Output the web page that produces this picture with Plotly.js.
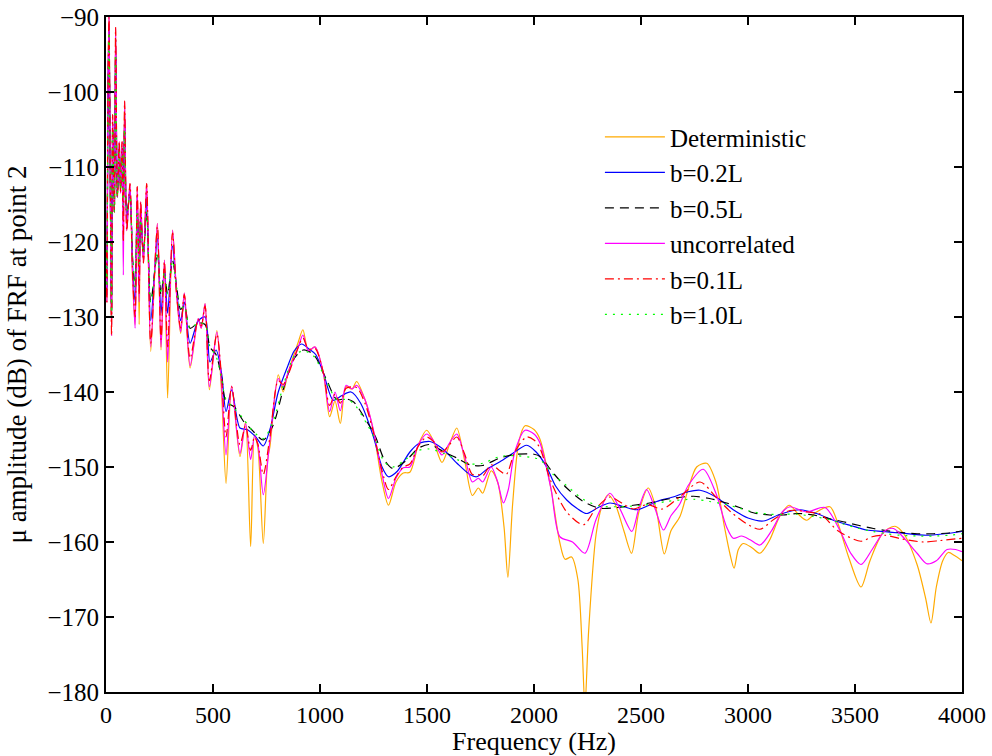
<!DOCTYPE html>
<html><head><meta charset="utf-8">
<script src="https://cdn.plot.ly/plotly-3.0.1.min.js"></script>
<style>html,body{margin:0;padding:0;background:#fff}#chart{width:992px;height:756px}</style>
</head><body><div id="chart"></div>
<script>
// Deterministic
const detF=[0,4,9,14,20,26,31,39,45,53,62,68,75,81,87,97,112,124,136,146,155,162,175,190,209,240,257,273,288,311,330,349,366,393,431,445,463,483,518,540,561,587,626,652,676,694,710,735,755,766,805,828,850,899,920,946,977,1016,1045,1070,1095,1122,1150,1171,1210,1249,1290,1320,1355,1389,1420,1460,1498,1530,1570,1605,1639,1675,1712,1740,1760,1800,1830,1860,1878,1900,1930,1958,2000,2028,2080,2120,2145,2176,2205,2225,2238,2255,2290,2320,2347,2380,2420,2456,2490,2534,2570,2609,2640,2682,2720,2760,2807,2850,2890,2915,2935,2955,2978,3020,3056,3100,3150,3193,3235,3274,3320,3383,3420,3470,3528,3570,3630,3687,3730,3790,3830,3855,3880,3910,3936,3965,4000];
const detY=[-121,-128,-100,-90,-112,-132.5,-103,-116,-91.4,-114,-106.6,-113.5,-106.6,-117,-101.2,-118.5,-112.2,-125,-131,-112.6,-131,-114.6,-122.8,-112.2,-134.6,-117.5,-134.4,-122.4,-140.8,-118.4,-127,-132.2,-126.8,-136.8,-130.2,-131.5,-128.2,-139.7,-131.8,-140,-152.2,-139.2,-148.6,-144,-160.6,-145.7,-147.5,-160.2,-149,-147.3,-137.7,-140,-137.5,-133.3,-131.7,-134.5,-134,-137.5,-143.3,-141.2,-144.2,-139.3,-139.6,-138.6,-141,-145.1,-152,-155.1,-152,-150.8,-150.7,-147,-145.1,-146.5,-149.4,-147,-144.8,-149,-153.8,-152.8,-153.5,-150.5,-152,-158,-164.7,-155,-146.5,-144.5,-145,-146.3,-153,-160,-162.3,-162,-165,-174,-182,-172,-159,-155,-153.7,-155,-158.5,-161.5,-156,-152.8,-155.5,-161.6,-158.5,-156.6,-153,-150,-149.5,-152,-158,-161.5,-163.5,-161,-160.2,-160.8,-161.5,-159.8,-156.5,-155.1,-156.3,-157.1,-156,-155.3,-157.5,-162,-166,-162.5,-158.8,-157.9,-159,-163,-167.5,-170.8,-166,-162.5,-161.4,-161.8,-162.5];

// b=0.2L
const b02F=[0,4,9,14,20,26,31,39,45,53,62,68,75,81,87,97,112,124,136,146,155,162,175,190,209,240,257,273,288,311,330,349,366,393,431,463,486,514,540,561,587,626,660,700,735,766,805,850,880,914,950,980,1016,1062,1100,1145,1190,1250,1290,1320,1360,1420,1460,1514,1570,1640,1700,1732,1780,1841,1900,1966,2010,2059,2100,2153,2200,2246,2300,2355,2420,2480,2530,2573,2650,2720,2776,2850,2931,3000,3072,3150,3243,3320,3399,3480,3554,3630,3710,3835,3920,4000];
const b02Y=[-121,-127,-101,-91,-112,-131,-104,-116,-93,-114,-107,-113,-107.5,-116,-103,-117,-113,-123,-128,-114,-125,-116,-122,-114,-130.5,-119.5,-129.5,-123.5,-129.5,-120.5,-126.5,-130.5,-128,-133.5,-130.5,-130,-136,-134.4,-137.5,-142.6,-139.7,-144.8,-145,-146,-147.2,-145,-140,-136.5,-134.5,-133.6,-134.3,-135,-137.5,-141.1,-140.5,-140,-141.5,-146,-150,-151.3,-150.6,-148,-146.9,-146.6,-147.5,-149.5,-151,-151.3,-150.3,-149.3,-148.2,-147.1,-148,-150,-152.5,-154.4,-155.5,-156.2,-155.4,-154.8,-155.3,-155.7,-155.2,-154.6,-154,-153.3,-153.1,-154,-155.7,-156.8,-157.2,-156.3,-155.7,-156.2,-157.1,-157.8,-158.4,-158.6,-158.8,-159.1,-158.9,-158.6];

// b=0.5L
const b05F=[0,4,9,14,20,26,31,39,45,53,62,68,75,81,87,97,112,124,136,146,155,162,175,190,209,240,257,273,288,311,330,349,366,393,431,463,486,514,540,561,600,640,680,735,780,830,880,922,970,1031,1078,1120,1156,1220,1260,1300,1340,1400,1460,1510,1580,1640,1700,1760,1841,1919,2000,2028,2090,2153,2230,2308,2390,2464,2540,2620,2745,2820,2900,2960,3025,3100,3165,3230,3305,3380,3445,3520,3586,3650,3710,3790,3866,3940,4000];
const b05Y=[-121,-126,-102,-92,-112,-130,-105,-116,-95,-114,-108,-113,-108.5,-115,-105,-116,-114,-122,-126,-116,-123,-117,-121.5,-116,-128,-121.5,-127,-124,-127,-122.5,-126,-129,-128.5,-131.5,-130.8,-131,-134,-135,-138,-141.3,-142,-143.8,-145,-146.4,-144.5,-139.5,-135.5,-134.4,-135,-138.4,-141,-140.9,-141.3,-144,-146,-149,-150.2,-149.2,-147.5,-147,-148,-148.8,-149.7,-149.8,-148.8,-148.3,-148.3,-148.6,-150.8,-152.8,-154.6,-155.5,-155.4,-155.1,-154.8,-154.3,-153.9,-154.2,-154.8,-155.4,-156.1,-156.4,-156.4,-156.2,-156.4,-156.9,-157.3,-157.8,-158.2,-158.5,-158.7,-158.9,-158.9,-158.8,-158.5];

// uncorrelated
const uncF=[0,4,9,14,20,26,31,39,45,53,62,68,75,81,87,97,112,124,136,146,155,162,175,190,209,240,257,273,288,311,330,349,366,393,431,445,463,483,518,540,561,587,626,652,676,694,710,735,766,805,828,850,899,920,946,977,1016,1045,1070,1095,1122,1150,1171,1210,1249,1290,1320,1355,1389,1420,1460,1498,1530,1570,1605,1639,1675,1712,1740,1760,1800,1830,1857,1880,1910,1958,2000,2028,2080,2121,2180,2238,2290,2355,2400,2457,2490,2526,2565,2605,2640,2680,2720,2791,2850,2900,2931,2970,3010,3056,3110,3160,3196,3274,3360,3430,3480,3528,3580,3640,3680,3730,3790,3835,3880,3930,3970,4000];
const uncY=[-121,-128,-100,-90,-112,-132.5,-103,-116,-91.4,-114,-106.6,-113.5,-106.6,-124.4,-101.2,-118.5,-112.2,-124,-131.5,-112.6,-128,-114.6,-122.8,-112.2,-134,-117.5,-134,-122.4,-136,-118.4,-127,-132,-126.8,-136.5,-130.2,-131.5,-128.2,-139.3,-132,-139,-148.4,-139.2,-148.2,-144.2,-149,-145.9,-147,-153.7,-146.5,-138.2,-139.3,-137.5,-134,-132.4,-134.5,-134,-137.5,-142.6,-140,-142.5,-139.1,-139.6,-139.1,-141,-145,-151,-154.2,-151.5,-150.1,-150,-147,-145.6,-146.5,-148.4,-146.8,-145.6,-148.5,-152,-151.5,-152,-150,-152,-154.8,-153,-148,-145.1,-145.6,-146.8,-153,-159.3,-160,-161.5,-157,-153.5,-155.5,-158.6,-155.5,-153,-155.5,-158.4,-156.5,-155,-152.5,-150.3,-153.5,-158,-159.5,-159.2,-159.7,-160.4,-158.5,-156,-155.3,-156,-155.4,-158.5,-161.5,-163,-161,-158.5,-158.2,-159.5,-161.5,-162.9,-162.5,-161,-161,-161.3];

// b=0.1L
const b01F=[0,4,9,14,20,26,31,39,45,53,62,68,75,81,87,97,112,124,136,146,155,162,175,190,209,240,257,273,288,311,330,349,366,393,431,445,463,483,518,540,561,587,626,652,676,694,710,735,766,805,828,850,899,920,946,977,1016,1045,1070,1095,1122,1171,1210,1249,1290,1320,1355,1389,1420,1460,1498,1530,1570,1605,1639,1675,1712,1740,1760,1800,1840,1870,1910,1965,2000,2028,2080,2153,2231,2290,2355,2410,2464,2530,2600,2680,2776,2850,2920,2990,3056,3120,3196,3280,3340,3420,3528,3580,3640,3720,3820,3900,4000];
const b01Y=[-121,-128,-100,-90,-112,-132.5,-103,-116,-91.4,-114,-106.6,-113.5,-106.6,-120,-101.2,-118.5,-112.2,-124,-130,-112.6,-127,-114.6,-122.8,-112.2,-133.5,-118,-133,-122.6,-134,-118.8,-127,-131.5,-127,-135.5,-130.3,-131.2,-128.5,-138.5,-132.3,-138,-146,-139.3,-147,-144.5,-147.8,-146,-147,-151,-146,-138.5,-139,-137.8,-134,-132.8,-134.3,-134.2,-137.5,-141.8,-140.3,-141.5,-139.5,-139.4,-141.5,-145.3,-150.5,-153,-151.3,-150,-149.6,-147.2,-146,-146.6,-148,-147,-146,-148.2,-151,-151,-151.2,-149.7,-150.5,-151,-148,-146,-146.4,-147.5,-152,-156,-157.7,-155.5,-154,-154.8,-155.6,-155,-155.6,-154,-152,-154,-156,-157.5,-158.3,-157,-155.8,-156,-156.3,-158.5,-159.9,-159.3,-159.1,-159.6,-160,-159.8,-159.5];

// b=1.0L
const b10F=[0,4,9,14,20,26,31,39,45,53,62,68,75,81,87,97,112,124,136,146,155,162,175,190,209,240,257,273,288,311,330,349,366,393,431,463,486,514,540,561,600,640,680,735,780,830,880,922,970,1031,1078,1120,1156,1220,1260,1300,1340,1400,1460,1510,1580,1640,1700,1760,1841,1919,2000,2028,2090,2153,2230,2308,2390,2464,2540,2620,2745,2820,2900,2960,3025,3100,3165,3230,3305,3380,3445,3520,3586,3650,3710,3790,3866,3940,4000];
const b10Y=[-121,-126,-102,-92,-112,-130,-105,-116,-95,-114,-108,-113,-108.5,-115,-105,-116,-114,-122,-126,-116,-123,-117,-121.5,-116,-128,-121.5,-127,-124,-127,-122.5,-126,-129,-128.5,-131.5,-130.8,-131,-134,-135.2,-138.3,-141,-142.2,-143.5,-145,-146.2,-144,-139,-135.2,-134.5,-135.2,-138.6,-141,-141,-141.5,-144.3,-146.5,-149.3,-150,-149,-147.8,-147.6,-148.2,-149,-149.6,-149.5,-148.6,-148.5,-148.8,-149,-151,-152.5,-154.3,-155.2,-155.3,-155.2,-155,-154.6,-154.3,-154.6,-155,-155.5,-156,-156.3,-156.3,-156.3,-156.6,-157,-157.6,-158.2,-158.6,-158.9,-159.1,-159.2,-159.2,-159.1,-158.9];

const names=['Deterministic','b=0.2L','b=0.5L','uncorrelated','b=0.1L','b=1.0L'];

const traces=[
 {x:detF,y:detY,name:names[0],line:{color:'#FFAA00',width:1.2,shape:'spline',smoothing:0.8}},
 {x:b02F,y:b02Y,name:names[1],line:{color:'#0000FF',width:1.2,shape:'spline',smoothing:0.8}},
 {x:b05F,y:b05Y,name:names[2],line:{color:'#000000',width:1.2,dash:'9px,6px',shape:'spline',smoothing:0.8}},
 {x:uncF,y:uncY,name:names[3],line:{color:'#FF00FF',width:1.2,shape:'spline',smoothing:0.8}},
 {x:b01F,y:b01Y,name:names[4],line:{color:'#FF0000',width:1.2,dash:'9px,4px,2px,4px',shape:'spline',smoothing:0.8}},
 {x:b10F,y:b10Y,name:names[5],line:{color:'#00FF00',width:1.2,dash:'2px,6px',shape:'spline',smoothing:0.8}}
].map((t,i)=>Object.assign(t,{type:'scatter',mode:'lines',legendgroup:'g'+i,hoverinfo:'skip'}));

const fam='"Liberation Serif", "Times New Roman", serif';
const layout={
 width:992,height:756,
 paper_bgcolor:'#fff',plot_bgcolor:'#fff',
 font:{family:fam,size:25,color:'#000'},
 margin:{l:106,r:30,t:17,b:64,pad:0},
 showlegend:true,
 legend:{x:0.577,y:0.856,xanchor:'left',yanchor:'top',bgcolor:'rgba(0,0,0,0)',borderwidth:0,
   font:{family:fam,size:25,color:'#000'},tracegroupgap:0,itemwidth:60},
 xaxis:{range:[0,4000],tickvals:[0,500,1000,1500,2000,2500,3000,3500,4000],
   ticks:'inside',ticklen:8,tickwidth:2,tickcolor:'#000',showline:true,linewidth:2,linecolor:'#000',
   mirror:'allticks',showgrid:false,zeroline:false,tickfont:{size:24},
   title:{text:'Frequency (Hz)',font:{size:26},standoff:3},automargin:false},
 yaxis:{range:[-180,-90],tickvals:[-180,-170,-160,-150,-140,-130,-120,-110,-100,-90],
   ticks:'inside',ticklen:8,tickwidth:2,tickcolor:'#000',showline:true,linewidth:2,linecolor:'#000',
   mirror:'allticks',showgrid:false,zeroline:false,tickfont:{size:25},
   title:{text:'μ amplitude (dB) of FRF at point 2',font:{size:27},standoff:13},automargin:false}
};
Plotly.newPlot('chart',traces,layout,{staticPlot:true,displayModeBar:false});
</script></body></html>
